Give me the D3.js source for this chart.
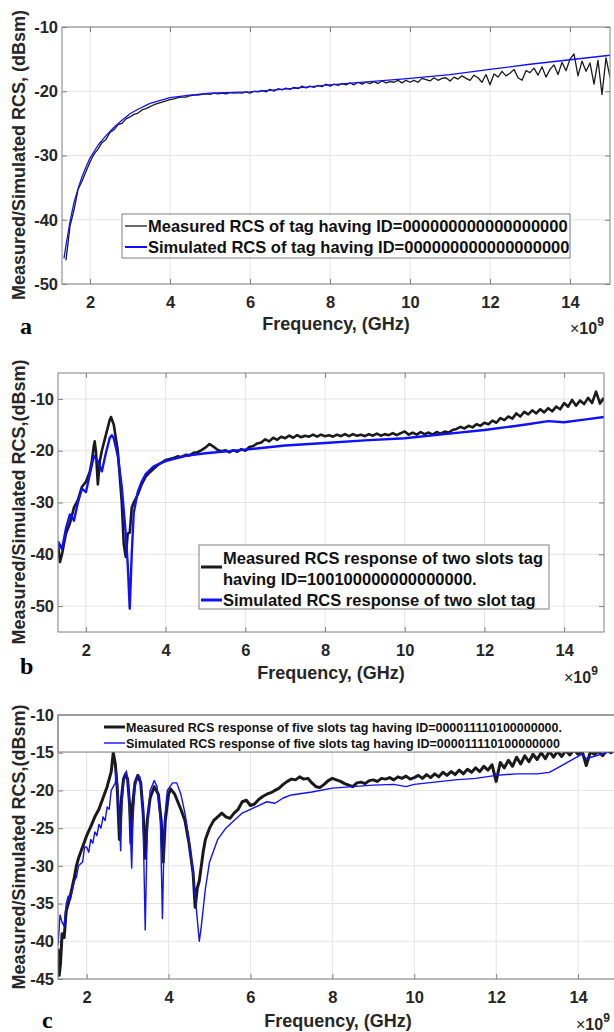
<!DOCTYPE html>
<html><head><meta charset="utf-8">
<script src="https://cdn.jsdelivr.net/npm/d3@7"></script>
<style>
body{margin:0;background:#fff}
svg{display:block}
text{font-family:"Liberation Sans",Arial,Helvetica,sans-serif;}
</style>
</head><body>
<svg id="fig" width="614" height="1032"></svg>
<script>
// ---------------- DATA ----------------
const xTicks = [2, 4, 6, 8, 10, 12, 14];
const yTicksA = [-50, -40, -30, -20, -10];
const yTicksB = [-50, -40, -30, -20, -10];
const yTicksC = [-45, -40, -35, -30, -25, -20, -15, -10];

// Panel a — simulated (smooth)
const aSimFreq = [1.35,1.4,1.5,1.6,1.7,1.8,1.9,2.0,2.2,2.4,2.6,2.8,3.0,3.2,3.5,4.0,4.5,5.0,6.0,7.0,8.0,9.0,10.0,11.0,12.0,13.0,14.0,15.0];
const aSimVal  = [-46,-44,-40.3,-37.3,-35.2,-33.3,-31.8,-30.4,-28.4,-26.9,-25.6,-24.5,-23.5,-22.8,-21.9,-21.0,-20.6,-20.3,-20.1,-19.6,-19.0,-18.5,-18.0,-17.4,-16.6,-15.8,-15.1,-14.4];

// Panel a — measured, sampled every 0.1 GHz from 1.4 GHz
const aMeasStart = 1.4;
const aMeasVal = [
-46.3,-41.0,-38.5,-35.3,-34.0,-32.5,-31.0,-29.8,-29.0,-28.0,-27.5,-26.4,-26.0,-25.2,-25.0,-24.3,-24.0,-23.6,-23.4,-22.9,
-22.7,-22.4,-22.1,-21.9,-21.7,-21.5,-21.3,-21.2,-21.0,-20.9,-20.9,-20.7,-20.6,-20.6,-20.5,-20.4,-20.5,-20.3,-20.4,-20.3,
-20.4,-20.2,-20.3,-20.2,-20.3,-20.1,-20.3,-20.0,-20.1,-19.9,-20.1,-19.7,-20.0,-19.6,-19.8,-19.5,-19.7,-19.4,-19.6,-19.2,
-19.5,-19.2,-19.4,-19.1,-19.3,-18.9,-19.2,-18.9,-19.1,-18.8,-19.0,-18.7,-19.0,-18.6,-18.9,-18.6,-18.8,-18.5,-18.8,-18.4,
-18.7,-18.5,-18.6,-18.3,-18.7,-18.3,
-18.6,-18.3,-18.6,-18.0,-18.2,-18.4,-17.9,-18.3,-18.0,-17.9,-18.4,-17.8,-18.1,-17.6,-18.0,-18.3,-17.5,-17.9,-18.6,-17.4,
-19.0,-17.3,-17.8,-16.9,-17.6,-17.2,-16.6,-17.9,-18.3,-16.8,-17.1,-16.4,-17.5,-16.2,-17.8,-16.6,-15.9,-17.4,-15.5,-16.8,
-15.0,-14.2,-17.6,-15.3,-16.9,-15.6,-18.9,-15.2,-20.5,-14.8,-17.8];

// Panel b — simulated
const bSimFreq = [1.3,1.4,1.5,1.6,1.7,1.8,1.9,2.0,2.1,2.2,2.3,2.4,2.5,2.6,2.65,2.7,2.8,2.9,3.0,3.05,3.1,3.15,3.2,3.3,3.4,3.5,3.7,4.0,4.5,5.0,6.0,7.0,8.0,9.0,10.0,11.0,12.0,13.0,13.6,14.0,14.5,15.0];
const bSimVal  = [-37.5,-39.0,-35.0,-32.3,-33.5,-30.0,-27.3,-28.0,-24.5,-21.0,-22.0,-24.0,-20.5,-17.5,-17.0,-17.6,-21.0,-27.0,-36.0,-42.0,-50.5,-40.0,-32.0,-28.0,-26.0,-24.5,-23.0,-22.0,-21.0,-20.5,-19.8,-19.0,-18.5,-18.0,-17.6,-16.8,-16.0,-15.0,-14.3,-14.5,-14.0,-13.5];

// Panel b — measured, low band (explicit) and upper band every 0.1 GHz from 4.1 GHz
const bMeasFreqLow = [1.3,1.35,1.4,1.5,1.6,1.7,1.8,1.9,2.0,2.1,2.15,2.2,2.22,2.25,2.3,2.35,2.4,2.5,2.6,2.63,2.7,2.8,2.9,2.95,3.0,3.05,3.1,3.15,3.2,3.3,3.4,3.5,3.6,3.7,3.8,3.9,4.0];
const bMeasValLow  = [-38.0,-41.5,-40.0,-36.0,-34.0,-31.0,-29.5,-27.0,-26.0,-24.0,-22.0,-19.0,-18.2,-20.0,-26.5,-22.0,-20.0,-17.0,-14.0,-13.5,-15.0,-20.0,-30.0,-38.0,-40.5,-36.0,-35.8,-31.0,-30.0,-28.5,-26.5,-25.0,-24.2,-23.5,-22.8,-22.3,-21.8];
const bMeasHighStart = 4.1;
const bMeasValHigh = [
-21.6,-21.4,-21.1,-21.2,-20.8,-20.9,-20.4,-20.3,-19.9,-19.4,-18.7,-19.2,-19.8,-20.1,-19.9,-20.3,-19.9,-20.2,-19.7,-20.0,
-19.3,-19.1,-18.6,-18.4,-17.8,-18.2,-17.5,-17.9,-17.3,-17.6,-17.1,-17.5,-17.0,-17.4,-17.1,-17.3,-16.9,-17.3,-16.9,-17.2,
-17.0,-17.3,-16.9,-17.2,-16.8,-17.2,-16.8,-17.1,-16.9,-17.2,-16.8,-17.1,-16.7,-17.1,-16.8,-17.0,-16.6,-17.0,-16.6,-16.3,
-16.9,-16.5,-16.9,-16.4,-16.8,-16.5,-16.9,-16.4,-16.7,-16.3,-16.5,-16.0,-15.8,-15.4,-15.7,-15.2,-15.5,-14.9,-15.2,-14.6,
-14.9,-14.2,-14.6,-13.7,-14.1,-13.4,-13.8,-12.8,-13.4,-12.5,-13.0,-12.2,-12.8,-12.0,-12.6,-11.8,-12.4,-11.5,-12.0,-10.8,
-11.5,-10.2,-11.3,-10.3,-11.0,-9.8,-10.8,-8.6,-10.9,-9.8];

// Panel c — simulated
const cSimFreq = [1.3,1.35,1.4,1.45,1.5,1.55,1.6,1.7,1.75,1.8,1.9,1.95,2.0,2.05,2.1,2.15,2.2,2.25,2.3,2.35,2.4,2.45,2.5,2.55,2.6,2.65,2.7,2.72,2.75,2.8,2.83,2.86,2.9,2.97,3.02,3.07,3.1,3.13,3.18,3.25,3.3,3.37,3.43,3.48,3.55,3.65,3.72,3.8,3.85,3.9,3.97,4.1,4.2,4.3,4.4,4.5,4.6,4.7,4.75,4.8,4.9,5.0,5.2,5.4,5.6,5.8,6.0,6.2,6.4,6.6,6.8,7.0,7.5,8.0,8.5,9.0,9.5,9.8,10.0,10.5,11.0,11.5,12.0,12.5,13.0,13.3,13.6,14.0,14.1,14.2,14.5,14.8,15.0];
const cSimVal  = [-40.5,-36.5,-37.5,-38.0,-35.0,-34.0,-34.5,-32.0,-31.5,-30.0,-29.5,-27.5,-27.5,-28.2,-26.5,-27.0,-25.5,-26.0,-24.5,-25.0,-23.5,-24.0,-22.2,-22.5,-20.0,-19.5,-19.0,-17.3,-19.0,-24.0,-28.0,-22.0,-19.0,-17.4,-19.5,-26.0,-30.3,-24.0,-19.5,-18.0,-18.2,-22.0,-38.5,-25.0,-20.0,-18.7,-19.5,-24.0,-37.0,-24.0,-20.0,-19.0,-19.0,-20.5,-23.0,-26.5,-31.0,-37.0,-40.0,-38.0,-33.0,-29.5,-26.5,-25.0,-24.0,-23.0,-22.5,-22.0,-21.5,-21.7,-21.0,-20.6,-20.2,-19.7,-19.5,-19.3,-19.2,-19.5,-19.2,-18.9,-18.6,-18.4,-18.0,-17.8,-17.8,-17.6,-16.7,-15.5,-15.2,-15.8,-15.3,-14.8,-14.6];

// Panel c — measured, low band (explicit) and upper band every 0.1 GHz from 5.1 GHz
const cMeasFreqLow = [1.3,1.33,1.36,1.4,1.45,1.5,1.6,1.7,1.75,1.8,1.9,2.0,2.1,2.2,2.3,2.4,2.5,2.6,2.65,2.7,2.75,2.8,2.85,2.9,2.95,3.0,3.05,3.08,3.12,3.18,3.25,3.32,3.38,3.43,3.48,3.55,3.65,3.75,3.82,3.87,3.92,4.0,4.05,4.15,4.3,4.4,4.5,4.6,4.65,4.7,4.75,4.8,4.85,4.9,5.0];
const cMeasValLow  = [-41.0,-44.5,-43.0,-39.0,-39.5,-36.0,-34.0,-31.5,-30.0,-29.0,-27.5,-26.0,-24.8,-23.5,-22.5,-21.0,-19.5,-17.5,-15.0,-16.5,-20.0,-26.5,-21.0,-18.5,-17.8,-18.5,-22.0,-27.0,-22.0,-19.0,-18.0,-19.0,-23.0,-29.0,-24.0,-21.0,-19.5,-20.5,-24.0,-29.5,-24.0,-20.5,-19.8,-20.5,-22.5,-24.0,-27.0,-31.0,-35.5,-33.0,-32.0,-30.0,-28.0,-26.5,-25.0];
const cMeasHighStart = 5.1;
const cMeasValHigh = [
-24.0,-23.5,-23.0,-23.5,-23.7,-23.0,-22.5,-21.5,-21.3,-22.0,-21.8,-21.2,-20.8,-20.5,-20.3,-20.0,-19.7,-19.2,-18.8,-18.5,
-18.6,-18.2,-18.5,-18.4,-19.0,-19.5,-19.6,-19.2,-18.7,-18.4,-18.6,-18.8,-19.1,-19.3,-19.5,-19.0,-18.9,-19.1,-18.7,-18.6,
-18.8,-18.4,-18.5,-18.3,-18.6,-18.2,-18.4,-18.1,-18.5,-18.3,-18.0,-18.4,-17.9,-18.3,-17.8,-18.2,-17.6,-18.0,-17.5,-17.9,
-17.3,-17.8,-17.2,-17.6,-17.0,-17.5,-16.8,-17.3,-16.6,-18.8,-16.3,-17.0,-16.0,-16.8,-15.6,-16.5,-15.4,-16.2,-15.2,-15.9,
-15.0,-15.8,-14.8,-15.6,-14.8,-15.5,-14.7,-15.3,-14.6,-15.2,-14.8,-16.7,-14.9,-15.2,-14.8,-15.4,-14.7,-15.0,-14.6,-15.1];

const legendA = ["Measured RCS of tag having ID=000000000000000000", "Simulated RCS of tag having ID=000000000000000000"];
const legendB = ["Measured RCS response of two slots tag", "having ID=100100000000000000.", "Simulated RCS response of two slot tag"];
const legendC = ["Measured RCS response of five slots tag having ID=000011110100000000.", "Simulated RCS response of five slots tag having ID=000011110100000000"];

// ---------------- BUILD SERIES ----------------
const pairs = (f, v) => v.map((d, i) => ({f: f[i], v: d}));
const grid = (start, v) => v.map((d, i) => ({f: Math.round(start * 10 + i) / 10, v: d}));

const aSim = pairs(aSimFreq, aSimVal);
const aMeas = grid(aMeasStart, aMeasVal);
const bSim = pairs(bSimFreq, bSimVal);
const bMeas = pairs(bMeasFreqLow, bMeasValLow).concat(grid(bMeasHighStart, bMeasValHigh));
const cSim = pairs(cSimFreq, cSimVal);
const cMeas = pairs(cMeasFreqLow, cMeasValLow).concat(grid(cMeasHighStart, cMeasValHigh));

// ---------------- DRAW ----------------
const svg = d3.select("#fig");
const BLUE = "#1010ff", BLACK = "#1a1a1a", FRAME = "#808080", GRID = "#e4e4e4", TXT = "#262626";

function panel(cfg) {
  const g = svg.append("g");
  const x = d3.scaleLinear().domain([1.3, 15]).range([cfg.l, cfg.r]);
  const y = d3.scaleLinear().domain(cfg.yDom).range([cfg.b, cfg.t]);
  const W = cfg.r - cfg.l, H = cfg.b - cfg.t;

  // grid
  g.append("g").selectAll("line").data(xTicks).join("line")
    .attr("x1", d => x(d)).attr("x2", d => x(d)).attr("y1", cfg.t).attr("y2", cfg.b)
    .attr("stroke", GRID).attr("stroke-width", 1);
  g.append("g").selectAll("line").data(cfg.yTicks).join("line")
    .attr("y1", d => y(d)).attr("y2", d => y(d)).attr("x1", cfg.l).attr("x2", cfg.r)
    .attr("stroke", GRID).attr("stroke-width", 1);

  // axes
  const ax = (gen, tr) => {
    const a = g.append("g").attr("transform", tr).call(gen);
    a.select(".domain").remove();
    a.selectAll(".tick line").attr("stroke", FRAME);
    a.selectAll("text").attr("fill", TXT).attr("font-size", 16.5).attr("font-weight", "bold");
    return a;
  };
  const fmt = d => String(d);
  ax(d3.axisBottom(x).tickValues(xTicks).tickSize(-5).tickPadding(12).tickFormat(fmt), `translate(0,${cfg.b})`);
  ax(d3.axisTop(x).tickValues(xTicks).tickSize(-5).tickFormat(""), `translate(0,${cfg.t})`);
  ax(d3.axisLeft(y).tickValues(cfg.yTicks).tickSize(-5).tickPadding(4).tickFormat(fmt), `translate(${cfg.l},0)`);
  ax(d3.axisRight(y).tickValues(cfg.yTicks).tickSize(-5).tickFormat(""), `translate(${cfg.r},0)`);

  // clip
  const cid = "clip" + cfg.id;
  svg.append("clipPath").attr("id", cid).append("rect")
    .attr("x", cfg.l).attr("y", cfg.t).attr("width", W).attr("height", H);
  const lines = g.append("g").attr("clip-path", `url(#${cid})`);
  const line = d3.line().x(d => x(d.f)).y(d => y(d.v));
  cfg.series.forEach(s => {
    lines.append("path").datum(s.data).attr("d", line)
      .attr("fill", "none").attr("stroke", s.color).attr("stroke-width", s.w)
      .attr("stroke-linejoin", "round");
  });

  // legend
  const L = cfg.legend;
  g.append("rect").attr("x", L.x).attr("y", L.y).attr("width", L.w).attr("height", L.h)
    .attr("fill", "#fff").attr("stroke", FRAME).attr("stroke-width", 1);
  L.items.forEach(it => {
    if (it.color) {
      g.append("line").attr("x1", L.x + L.s0).attr("x2", L.x + L.s1)
        .attr("y1", it.ly).attr("y2", it.ly).attr("stroke", it.color).attr("stroke-width", it.w);
    }
    g.append("text").attr("x", L.x + L.tx).attr("y", it.ty).text(it.text)
      .attr("font-size", L.fs).attr("font-weight", "bold").attr("fill", "#111");
  });

  // frame
  g.append("rect").attr("x", cfg.l).attr("y", cfg.t).attr("width", W).attr("height", H)
    .attr("fill", "none").attr("stroke", FRAME).attr("stroke-width", 1);

  // labels
  g.append("text").attr("x", cfg.xt.x).attr("y", cfg.xt.y).attr("text-anchor", "middle")
    .attr("font-size", 18).attr("font-weight", "bold").attr("fill", TXT).text("Frequency, (GHz)");
  g.append("text").attr("transform", `translate(${cfg.yt.x},${cfg.yt.y}) rotate(-90)`).attr("text-anchor", "middle")
    .attr("font-size", 18).attr("font-weight", "bold").attr("fill", TXT).text(cfg.ytitle);
  const ex = g.append("text").attr("x", cfg.ex.x).attr("y", cfg.ex.y).attr("font-size", 16).attr("fill", TXT);
  ex.append("tspan").text("\u00d7");
  ex.append("tspan").attr("font-weight", "bold").text("10");
  ex.append("tspan").attr("font-weight", "bold").attr("font-size", 12).attr("dy", -8).text("9");
  g.append("text").attr("x", cfg.tag.x).attr("y", cfg.tag.y)
    .style("font-family", '"Liberation Serif","Times New Roman",serif').attr("font-weight", "bold")
    .attr("font-size", 24).attr("fill", "#000").text(cfg.tag.t);
}

panel({
  id: "a", l: 62, r: 610, t: 27, b: 284, yDom: [-50, -10], yTicks: yTicksA,
  series: [{data: aMeas, color: BLACK, w: 1.3}, {data: aSim, color: BLUE, w: 1.3}],
  legend: {x: 122, y: 214, w: 448, h: 44, s0: 3, s1: 25, tx: 26, fs: 16.5,
    items: [{text: legendA[0], color: BLACK, w: 1.3, ly: 226, ty: 232},
            {text: legendA[1], color: BLUE, w: 2, ly: 247, ty: 253}]},
  xt: {x: 336, y: 330}, yt: {x: 25, y: 155}, ytitle: "Measured/Simulated RCS, (dBsm)",
  ex: {x: 570, y: 334}, tag: {x: 20, y: 334, t: "a"}
});

panel({
  id: "b", l: 58, r: 604, t: 373, b: 632, yDom: [-55, -5], yTicks: yTicksB,
  series: [{data: bMeas, color: BLACK, w: 2.6}, {data: bSim, color: BLUE, w: 2.4}],
  legend: {x: 199, y: 545, w: 350, h: 64, s0: 2, s1: 23, tx: 24, fs: 16.5,
    items: [{text: legendB[0], color: BLACK, w: 3, ly: 567, ty: 564},
            {text: legendB[1], ty: 585},
            {text: legendB[2], color: BLUE, w: 3, ly: 600, ty: 606}]},
  xt: {x: 331, y: 679}, yt: {x: 25, y: 502}, ytitle: "Measured/Simulated RCS,(dBsm)",
  ex: {x: 564, y: 683}, tag: {x: 20, y: 674, t: "b"}
});

panel({
  id: "c", l: 58, r: 619, t: 715, b: 979, yDom: [-45, -10], yTicks: yTicksC,
  series: [{data: cMeas, color: BLACK, w: 3}, {data: cSim, color: BLUE, w: 1.4}],
  legend: {x: 58, y: 715, w: 561, h: 37, s0: 46, s1: 67, tx: 68, fs: 12.5,
    items: [{text: legendC[0], color: BLACK, w: 3, ly: 727, ty: 732},
            {text: legendC[1], color: BLUE, w: 1.4, ly: 743, ty: 748}]},
  xt: {x: 338, y: 1027}, yt: {x: 25, y: 847}, ytitle: "Measured/Simulated RCS,(dBsm)",
  ex: {x: 576, y: 1030}, tag: {x: 42, y: 1028, t: "c"}
});
</script>
</body></html>
